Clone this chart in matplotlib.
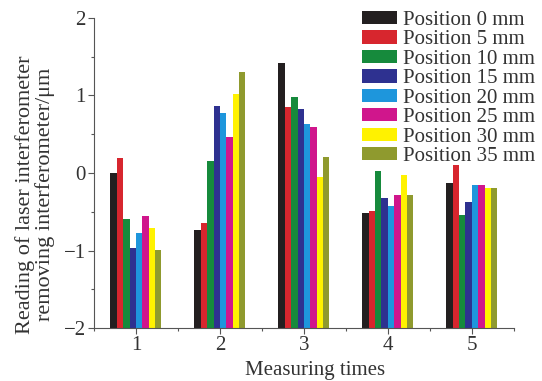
import numpy as np
import matplotlib.pyplot as plt
from matplotlib.ticker import MultipleLocator

# data (bars rise from the bottom of the axis)
times = [1, 2, 3, 4, 5]
positions = ['Position 0 mm', 'Position 5 mm', 'Position 10 mm', 'Position 15 mm',
             'Position 20 mm', 'Position 25 mm', 'Position 30 mm', 'Position 35 mm']
pos_0 = [0.00, -0.74, 1.42, -0.51, -0.13]
pos_5 = [0.19, -0.64, 0.85, -0.49, 0.10]
pos_10 = [-0.59, 0.15, 0.98, 0.03, -0.54]
pos_15 = [-0.97, 0.87, 0.82, -0.32, -0.37]
pos_20 = [-0.77, 0.77, 0.63, -0.43, -0.16]
pos_25 = [-0.55, 0.47, 0.59, -0.29, -0.16]
pos_30 = [-0.71, 1.02, -0.05, -0.02, -0.20]
pos_35 = [-0.99, 1.30, 0.21, -0.29, -0.20]
series = [pos_0, pos_5, pos_10, pos_15, pos_20, pos_25, pos_30, pos_35]
colors = ['#231f20', '#d7262e', '#168a3c', '#2e3190',
          '#1e96dc', '#d0168c', '#fff200', '#8f9a2e']

plt.rcParams['font.family'] = ['Liberation Serif', 'DejaVu Serif']
fs = 15
base = -2

fig = plt.figure(figsize=(5.42, 3.81), dpi=100)
ax = fig.add_axes([0.1734, 0.139, 0.7746, 0.814])

x = np.array(times, dtype=float)
w = 0.076
for i, (vals, c, lab) in enumerate(zip(series, colors, positions)):
    ax.bar(x + (i - 3.5) * w, np.array(vals) - base, width=w, bottom=base,
           color=c, label=lab, linewidth=0)

ax.set_xlim(0.5, 5.5)
ax.set_ylim(-2, 2)
ax.set_xticks(times)
ax.xaxis.set_minor_locator(MultipleLocator(1, offset=0.5))
ax.yaxis.set_major_locator(MultipleLocator(1))
ax.yaxis.set_minor_locator(MultipleLocator(0.5))
ax.tick_params(which='major', direction='out', length=4, width=0.8, labelsize=fs,
               color='#555555', labelcolor='#333333', pad=2)
ax.tick_params(which='minor', direction='out', length=2.5, width=0.8, color='#555555')
ax.spines['top'].set_visible(False)
ax.spines['right'].set_visible(False)
for s in ['left', 'bottom']:
    ax.spines[s].set_color('#555555')
    ax.spines[s].set_linewidth(0.8)

ax.set_xlabel('Measuring times', fontsize=fs, color='#333333')
ax.xaxis.set_label_coords(0.526, -0.105)
ax.set_ylabel('Reading of laser interferometer\nremoving interferometer/\u03bcm',
              fontsize=16, color='#333333', linespacing=1.0)
ax.yaxis.set_label_coords(-0.093, 0.43)

leg = ax.legend(loc='upper left', bbox_to_anchor=(362 / 542, 1 - 11 / 381),
                bbox_transform=fig.transFigure, frameon=False, fontsize=fs,
                handlelength=1.7, handleheight=0.6, handletextpad=0.25,
                labelspacing=0.02, borderpad=0, borderaxespad=0)
for t in leg.get_texts():
    t.set_color('#333333')

plt.savefig('out.png', dpi=100)
